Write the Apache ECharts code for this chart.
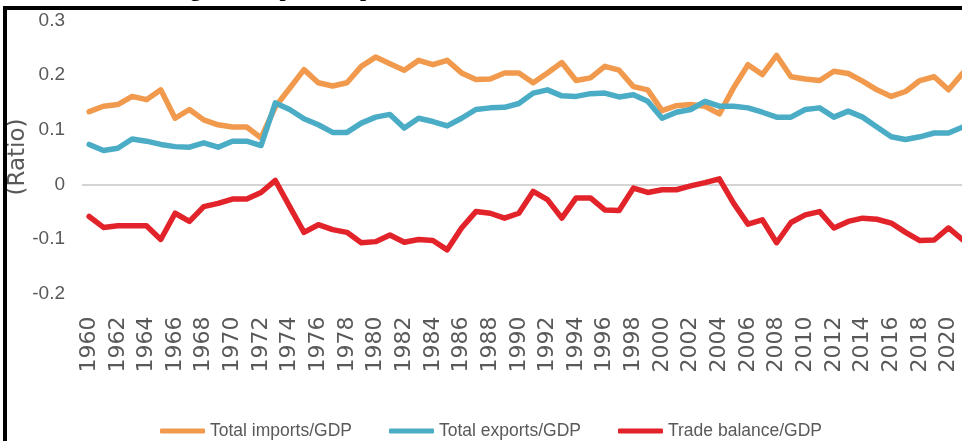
<!DOCTYPE html>
<html>
<head>
<meta charset="utf-8">
<script src="https://cdn.jsdelivr.net/npm/echarts@6/dist/echarts.min.js"></script>
<style>
  html, body { margin: 0; padding: 0; background: #fff; }
  #chart { width: 962px; height: 441px; }
</style>
</head>
<body>
<div id="chart"></div>
<script>
// Years 1960–2021
const years = [];
for (let y = 1960; y <= 2021; y++) years.push(String(y));

// Total imports as a share of GDP
const importsGDP = [
  0.133, 0.143, 0.146, 0.161, 0.155, 0.173, 0.121, 0.137, 0.118, 0.109,
  0.105, 0.105, 0.085, 0.142, 0.176, 0.210, 0.186, 0.180, 0.186, 0.216,
  0.233, 0.221, 0.209, 0.227, 0.219, 0.227, 0.204, 0.192, 0.193, 0.204,
  0.204, 0.186, 0.204, 0.223, 0.190, 0.195, 0.216, 0.209, 0.179, 0.173,
  0.135, 0.144, 0.146, 0.143, 0.129, 0.177, 0.219, 0.201, 0.236, 0.197,
  0.193, 0.190, 0.207, 0.203, 0.189, 0.173, 0.161, 0.170, 0.190, 0.197,
  0.173, 0.204
];

// Total exports as a share of GDP
const exportsGDP = [
  0.073, 0.062, 0.066, 0.083, 0.079, 0.073, 0.069, 0.068, 0.076, 0.068,
  0.079, 0.079, 0.071, 0.149, 0.137, 0.120, 0.109, 0.095, 0.095, 0.112,
  0.123, 0.128, 0.103, 0.121, 0.115, 0.107, 0.121, 0.137, 0.140, 0.141,
  0.148, 0.167, 0.173, 0.162, 0.161, 0.166, 0.167, 0.160, 0.164, 0.152,
  0.121, 0.132, 0.137, 0.152, 0.143, 0.143, 0.140, 0.132, 0.123, 0.123,
  0.137, 0.140, 0.123, 0.134, 0.123, 0.105, 0.087, 0.082, 0.087, 0.094,
  0.094, 0.105
];

// Trade balance as a share of GDP
const balanceGDP = [
  -0.059, -0.079, -0.076, -0.076, -0.076, -0.101, -0.053, -0.068, -0.041, -0.035,
  -0.027, -0.027, -0.015, 0.007, -0.041, -0.088, -0.074, -0.083, -0.088, -0.107,
  -0.105, -0.093, -0.106, -0.101, -0.103, -0.120, -0.080, -0.050, -0.053, -0.062,
  -0.053, -0.013, -0.028, -0.062, -0.025, -0.025, -0.047, -0.048, -0.007, -0.015,
  -0.010, -0.010, -0.003, 0.003, 0.010, -0.035, -0.073, -0.065, -0.107, -0.070,
  -0.056, -0.050, -0.080, -0.068, -0.062, -0.064, -0.071, -0.088, -0.103, -0.102,
  -0.080, -0.102
];

const seriesNames = ['Total imports/GDP', 'Total exports/GDP', 'Trade balance/GDP'];
const seriesColors = ['#F19A4E', '#4BACC6', '#E2232A'];

const sans = "'Liberation Sans', Arial, sans-serif";
const grey = '#595959';

const chart = echarts.init(document.getElementById('chart'), null, { renderer: 'canvas' });

const lineSeries = [importsGDP, exportsGDP, balanceGDP].map((data, i) => ({
  name: seriesNames[i],
  type: 'line',
  data: data,
  symbol: 'none',
  smooth: false,
  color: seriesColors[i],
  lineStyle: { width: 5.5, color: seriesColors[i], cap: 'round', join: 'round' },
  z: 3 + i
}));

// Zero reference line
lineSeries[0].markLine = {
  silent: true,
  symbol: 'none',
  label: { show: false },
  lineStyle: { color: '#d4d4d4', width: 2, type: 'solid' },
  data: [{ yAxis: 0 }],
  z: 1
};

chart.setOption({
  animation: false,
  backgroundColor: '#ffffff',
  grid: {
    left: 82, top: 20.5, width: 888, height: 273,
    containLabel: false,
    outerBoundsMode: 'none'
  },
  xAxis: {
    type: 'category',
    data: years,
    boundaryGap: true,
    axisLine: { show: false },
    axisTick: { show: false },
    splitLine: { show: false },
    axisLabel: {
      interval: 1,
      rotate: 90,
      margin: 23,
      color: grey,
      fontSize: 22,
      fontFamily: 'DejaVu Sans'
    }
  },
  yAxis: {
    type: 'value',
    min: -0.2,
    max: 0.3,
    interval: 0.1,
    name: '(Ratio)',
    nameLocation: 'middle',
    nameGap: 52,
    nameMoveOverlap: false,
    nameRotate: 90,
    nameTextStyle: { color: grey, fontSize: 23, fontFamily: 'DejaVu Sans' },
    axisLine: { show: false },
    axisTick: { show: false },
    splitLine: { show: false },
    axisLabel: {
      margin: 17,
      color: grey,
      fontSize: 19,
      fontFamily: sans,
      formatter: v => String(Math.round(v * 10) / 10)
    }
  },
  legend: {
    data: seriesNames,
    left: 155,
    top: 417,
    icon: 'roundRect',
    itemWidth: 45,
    itemHeight: 5,
    itemGap: 37,
    textStyle: { color: grey, fontSize: 17.5, fontFamily: sans }
  },
  graphic: [
    {
      type: 'text',
      x: -26,
      y: -21,
      z: 10,
      style: {
        text: 'Trends in trade showing total imports, exports and trade balance',
        font: 'bold 22px "Liberation Serif", serif',
        fill: '#000'
      }
    },
    {
      type: 'rect',
      z: 10,
      silent: true,
      shape: { x: 5, y: 8, width: 1200, height: 800 },
      style: { fill: 'none', stroke: '#000', lineWidth: 4 }
    }
  ],
  series: lineSeries
});
</script>
</body>
</html>
